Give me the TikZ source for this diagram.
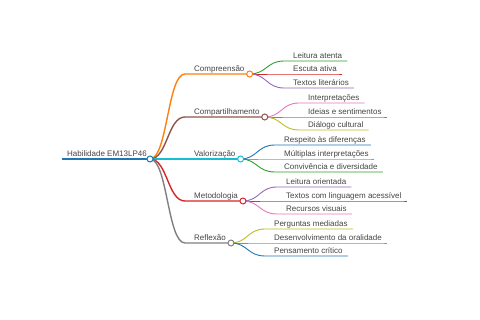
\documentclass[tikz,border=0pt]{standalone}
\usepackage{fontspec}
\setmainfont{Liberation Sans}
\definecolor{txt}{HTML}{444444}
\definecolor{cblue}{HTML}{1F77B4}
\definecolor{corange}{HTML}{FF7F0E}
\definecolor{cgreen}{HTML}{2CA02C}
\definecolor{cred}{HTML}{D62728}
\definecolor{cpurple}{HTML}{9467BD}
\definecolor{cbrown}{HTML}{8C564B}
\definecolor{cpink}{HTML}{E377C2}
\definecolor{cgray}{HTML}{7F7F7F}
\definecolor{colive}{HTML}{BCBD22}
\definecolor{ccyan}{HTML}{17BECF}
% #1 parent coordinate, #2 px, #3 py, #4 x, #5 y, #6 style, #7 node name, #8 text
\newcommand\mmlink[8]{%
  \node[lbl] (#7) at (#4,#5-2.5) {#8};
  \draw[#6] (#1) .. controls ({(#2+#4-9)/2},#3) and ({(#2+#4-9)/2},#5) .. (#4-9,#5)
    -- (#7.east |- 0,#5) -- ++(5,0) coordinate (c#7);
}
\begin{document}
\begin{tikzpicture}[x=1pt,y=-1pt,
  lbl/.style={anchor=base west, inner sep=0pt, font=\fontsize{8}{9.6}\selectfont, text=txt},
  dot/.style={circle, draw=#1, fill=white, line width=1pt, minimum size=6pt, inner sep=0pt},
  brl/.style={draw=#1, line width=1.4pt},
  lfl/.style={draw=#1, line width=0.9pt}]
\useasboundingbox (0,0) rectangle (480,320);
% root
\coordinate (r0) at (62,159);
\coordinate (p0) at (150,159);
\node[lbl] (root) at (67,156.5) {Habilidade EM13LP46};
\draw[draw=cblue, line width=1.8pt] (r0) -- (p0);
% branches
\mmlink{p0}{150}{159}{194}{74}{brl=corange}{A}{Compreensão}
\mmlink{p0}{150}{159}{194}{117}{brl=cbrown}{B}{Compartilhamento}
\mmlink{p0}{150}{159}{194}{159}{brl=ccyan}{C}{Valorização}
\mmlink{p0}{150}{159}{194}{201}{brl=cred}{D}{Metodologia}
\mmlink{p0}{150}{159}{194}{243}{brl=cgray}{E}{Reflexão}
% leaves A
\mmlink{cA}{249}{74}{293}{61}{lfl=cgreen}{A1}{Leitura atenta}
\mmlink{cA}{249}{74}{293}{74}{lfl=cred}{A2}{Escuta ativa}
\mmlink{cA}{249}{74}{293}{88}{lfl=cpurple}{A3}{Textos literários}
% leaves B
\mmlink{cB}{264}{117}{308}{103}{lfl=cpink}{B1}{Interpretações}
\mmlink{cB}{264}{117}{308}{117}{lfl=cgray}{B2}{Ideias e sentimentos}
\mmlink{cB}{264}{117}{308}{130}{lfl=colive}{B3}{Diálogo cultural}
% leaves C
\mmlink{cC}{239}{159}{284}{145}{lfl=cblue}{C1}{Respeito às diferenças}
\mmlink{cC}{239}{159}{284}{159}{lfl=corange}{C2}{Múltiplas interpretações}
\mmlink{cC}{239}{159}{284}{172}{lfl=cgreen}{C3}{Convivência e diversidade}
% leaves D
\mmlink{cD}{242}{201}{286}{187}{lfl=cpurple}{D1}{Leitura orientada}
\mmlink{cD}{242}{201}{286}{201}{lfl=cbrown}{D2}{Textos com linguagem acessível}
\mmlink{cD}{242}{201}{286}{214}{lfl=cpink}{D3}{Recursos visuais}
% leaves E
\mmlink{cE}{230}{243}{274}{229}{lfl=colive}{E1}{Perguntas mediadas}
\mmlink{cE}{230}{243}{274}{243}{lfl=ccyan}{E2}{Desenvolvimento da oralidade}
\mmlink{cE}{230}{243}{274}{256}{lfl=cblue}{E3}{Pensamento crítico}
% circles on top
\node[dot=cblue] (d0) at (p0) {};
\node[dot=corange] (dA) at (cA) {};
\node[dot=cbrown] (dB) at (cB) {};
\node[dot=ccyan] (dC) at (cC) {};
\node[dot=cred] (dD) at (cD) {};
\node[dot=cgray] (dE) at (cE) {};
\end{tikzpicture}
\end{document}
